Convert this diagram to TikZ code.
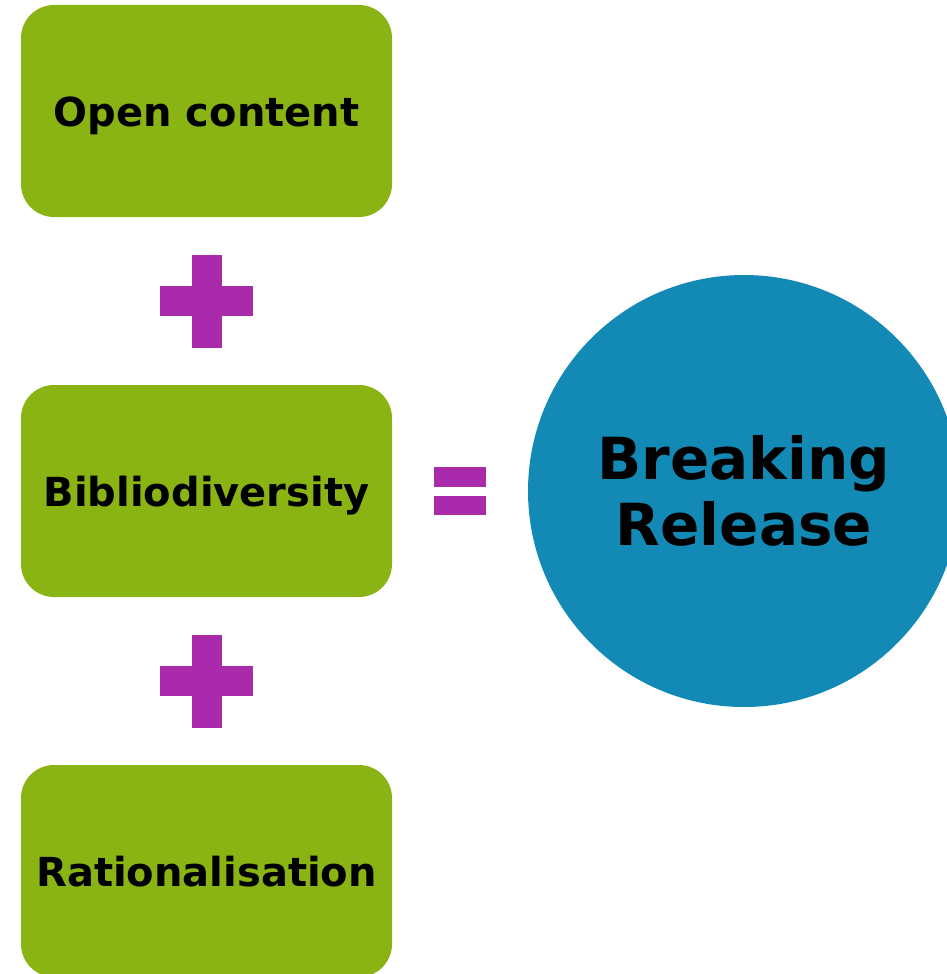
\documentclass[tikz,border=0pt]{standalone}
\usepackage{fontspec}
\setmainfont{DejaVu Sans}
\usetikzlibrary{positioning, calc}

\definecolor{boxgreen}{HTML}{8AB413}
\definecolor{signpurple}{HTML}{A92BAC}
\definecolor{releaseblue}{HTML}{1389B5}

\begin{document}
\begin{tikzpicture}[x=1pt, y=-1pt,
  item/.style={fill=boxgreen, rounded corners=33pt, minimum width=371pt, minimum height=212pt, inner sep=0pt, text height=30pt, text depth=0pt, font=\fontsize{40}{46}\selectfont\bfseries},
  result/.style={circle, fill=releaseblue, minimum size=432pt, inner sep=0pt, align=center, font=\fontsize{58}{66}\selectfont\bfseries},
  sign/.style={fill=signpurple}]
\useasboundingbox (0,0) rectangle (946,974);
\node[item] (open) at (206.5,111) {Open content};
\node[item] (biblio) at (206.5,491) {Bibliodiversity};
\node[item] (ratio) at (206.5,871) {Rationalisation};
\node[result] (release) at (744,491) {Breaking\\Release};
% plus signs between the boxes
\coordinate (plusa) at ($(open.south)!.5!(biblio.north)$);
\coordinate (plusb) at ($(biblio.south)!.5!(ratio.north)$);
\foreach \p in {plusa, plusb} {
  \fill[sign] ([shift={(-15,-46.5)}]\p) rectangle ([shift={(15,46.5)}]\p);
  \fill[sign] ([shift={(-46.5,-15)}]\p) rectangle ([shift={(46.5,15)}]\p);
}
% equals sign
\coordinate (eq) at ($(biblio.east)!.5!(release.west)$);
\fill[sign] ([shift={(-26,-24)}]eq) rectangle ([shift={(26,-4.5)}]eq);
\fill[sign] ([shift={(-26,4.5)}]eq) rectangle ([shift={(26,24)}]eq);
\end{tikzpicture}
\end{document}
